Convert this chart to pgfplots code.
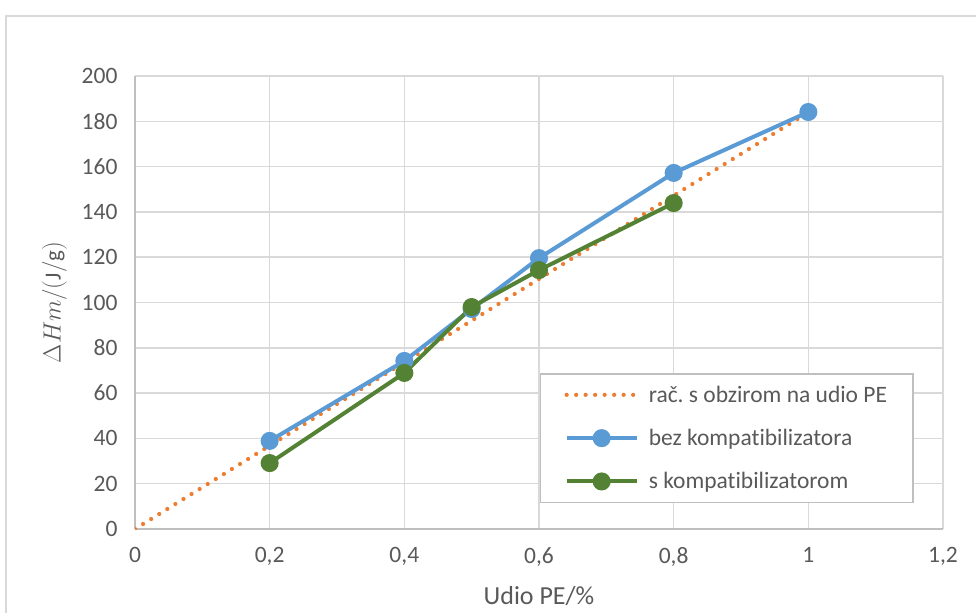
\documentclass[border=0pt]{standalone}
\usepackage{pgfplots}
\pgfplotsset{compat=1.18}
\usepackage{fontspec}
\setmainfont{Carlito}[Ligatures=NoCommon]
\frenchspacing
\definecolor{cor}{HTML}{ED7D31}
\definecolor{cbl}{HTML}{5B9BD5}
\definecolor{cgr}{HTML}{548235}
\definecolor{cgrid}{HTML}{D9D9D9}
\definecolor{ctxt}{HTML}{595959}
\definecolor{caxis}{HTML}{BFBFBF}
\begin{document}
\begin{tikzpicture}[x=1pt,y=1pt]
\useasboundingbox (0,0) rectangle (976,613);
\draw[cgrid, line width=1.5pt] (6,0) -- (6,597) -- (976,597);
\begin{axis}[
  at={(135pt,84pt)}, anchor=south west, scale only axis,
  width=808pt, height=453pt,
  xmin=0, xmax=1.2, ymin=0, ymax=200,
  xtick={0,0.2,0.4,0.6,0.8,1,1.2},
  ytick={0,20,40,60,80,100,120,140,160,180,200},
  grid=major, major grid style={cgrid, line width=1.5pt},
  axis x line*=bottom, axis y line*=left,
  axis line style={caxis, line width=1.5pt, -},
  major tick length=0pt,
  /pgf/number format/assume math mode=true,
  /pgf/number format/use comma,
  ticklabel style={font=\fontsize{23.5}{28}\selectfont, text=ctxt},
  xticklabel style={yshift=-15pt},
  yticklabel style={xshift=-14pt},
  xlabel={Udio PE/\%},
  ylabel={$\Delta Hm/(\mathrm{J/g})$},
  xlabel style={font=\fontsize{26}{30}\selectfont, text=ctxt, yshift=-13pt},
  ylabel style={font=\fontsize{23}{28}\selectfont, text=ctxt, yshift=8pt},
  legend cell align=left,
  legend style={at={(0.501,0.344)}, anchor=north west, draw=caxis, line width=1.5pt,
    font=\fontsize{23.5}{28}\selectfont, text=ctxt,
    inner xsep=24pt, inner ysep=10pt, row sep=21.5pt,
    /tikz/every odd column/.append style={column sep=8pt}},
  legend image code/.code={\draw[mark repeat=2,mark phase=2] plot coordinates {(0pt,0pt) (35pt,0pt) (70pt,0pt)};},
]
\addplot[cor, line width=4.2pt, line cap=round, dash pattern=on 0pt off 9.5pt] coordinates {
 (0,0) (0.2,36.8) (0.4,73.6) (0.5,92) (0.6,110.4) (0.8,147.2) (1,184)};
\addlegendentry{rač. s obzirom na udio PE}
\addplot[cbl, line width=4pt, mark=*, mark size=7pt, mark options={solid, fill=cbl, draw=cbl}] coordinates {
 (0.2,38.9) (0.4,74.2) (0.5,97.1) (0.6,119.6) (0.8,157.2) (1,184.1)};
\addlegendentry{bez kompatibilizatora}
\addplot[cgr, line width=4pt, mark=*, mark size=7pt, mark options={solid, fill=cgr, draw=cgr}] coordinates {
 (0.2,29.1) (0.4,68.9) (0.5,98) (0.6,114.3) (0.8,143.9)};
\addlegendentry{s kompatibilizatorom}
\end{axis}
\end{tikzpicture}
\end{document}
